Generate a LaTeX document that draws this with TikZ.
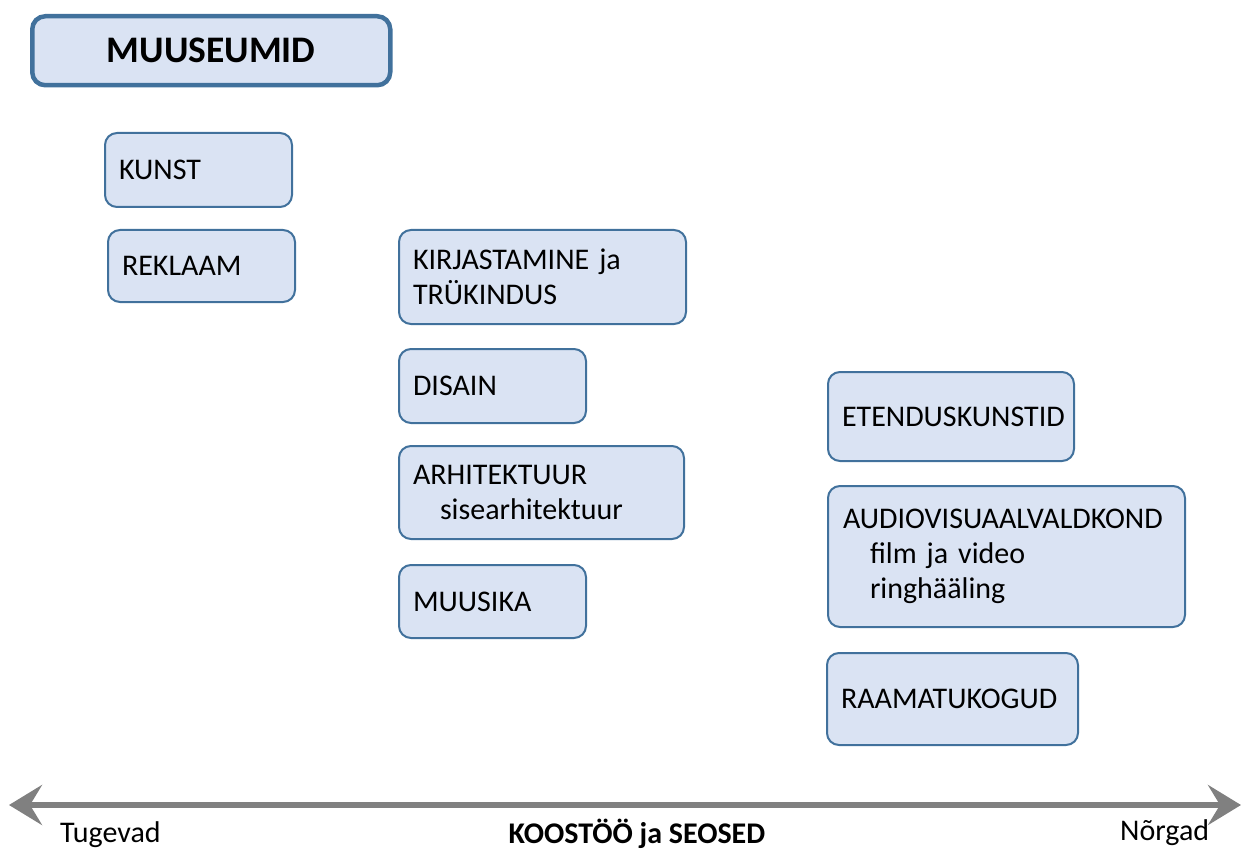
\documentclass[tikz,border=0pt]{standalone}
\usepackage{fontspec}
\setmainfont{Carlito}
\usetikzlibrary{arrows.meta}
\definecolor{boxfill}{HTML}{DAE3F3}
\definecolor{boxline}{HTML}{41719C}
\definecolor{arrowgray}{HTML}{808080}
\tikzset{
  box/.style={draw=boxline, fill=boxfill, line width=2pt, rounded corners=12pt,
    anchor=north west, inner xsep=14pt, inner ysep=2pt, align=left,
    font=\fontsize{30}{35.2}\selectfont},
  titlebox/.style={draw=boxline, fill=boxfill, line width=4.5pt, rounded corners=13pt,
    anchor=north west, minimum width=358pt, minimum height=69pt, inner sep=0pt,
    font=\fontsize{37.5}{44}\selectfont\bfseries},
  lbl/.style={font=\fontsize{30}{35}\selectfont, inner sep=0pt},
  axis/.style={line width=6pt, draw=arrowgray,
    {Stealth[length=33pt,width=40pt,inset=12pt]}-{Stealth[length=33pt,width=40pt,inset=12pt]}}
}
\begin{document}
\begin{tikzpicture}[x=1pt,y=-1pt]
\useasboundingbox (0,0) rectangle (1247,850);
\node[titlebox] (muuseumid) at (30,14) {MUUSEUMID};
\node[box, text width=159pt, minimum height=74pt] (kunst) at (104,132) {KUNST};
\node[box, text width=159pt, minimum height=72pt] (reklaam) at (107,229) {REKLAAM};
\node[box, text width=259pt, minimum height=94pt] (kirj) at (398,229) {KIRJASTAMINE ja\\TRÜKINDUS};
\node[box, text width=159pt, minimum height=74pt] (disain) at (398,348) {DISAIN};
\node[box, text width=257pt, minimum height=93pt] (arhi) at (398,445) {ARHITEKTUUR\\\hspace*{27pt}sisearhitektuur};
\node[box, text width=159pt, minimum height=73pt] (muusika) at (398,564) {MUUSIKA};
\node[box, text width=218pt, minimum height=89pt] (eten) at (827,371) {ETENDUSKUNSTID};
\node[box, text width=327pt, minimum height=141pt, inner xsep=15pt] (audio) at (827,485) {AUDIOVISUAALVALDKOND\\\hspace*{27pt}film ja video\\\hspace*{27pt}ringhääling};
\node[box, text width=223pt, minimum height=92pt] (raam) at (826,652) {RAAMATUKOGUD};
\coordinate (axl) at (9,805);
\coordinate (axr) at (1241,805);
\draw[axis] (axl) -- (axr);
\node[lbl, anchor=west] (tugevad) at (60,835) {Tugevad};
\node[lbl, anchor=center, font=\fontsize{30}{35}\selectfont\bfseries] (koostoo) at (637,834) {KOOSTÖÖ ja SEOSED};
\node[lbl, anchor=west] (norgad) at (1120,833) {Nõrgad};
\end{tikzpicture}
\end{document}
